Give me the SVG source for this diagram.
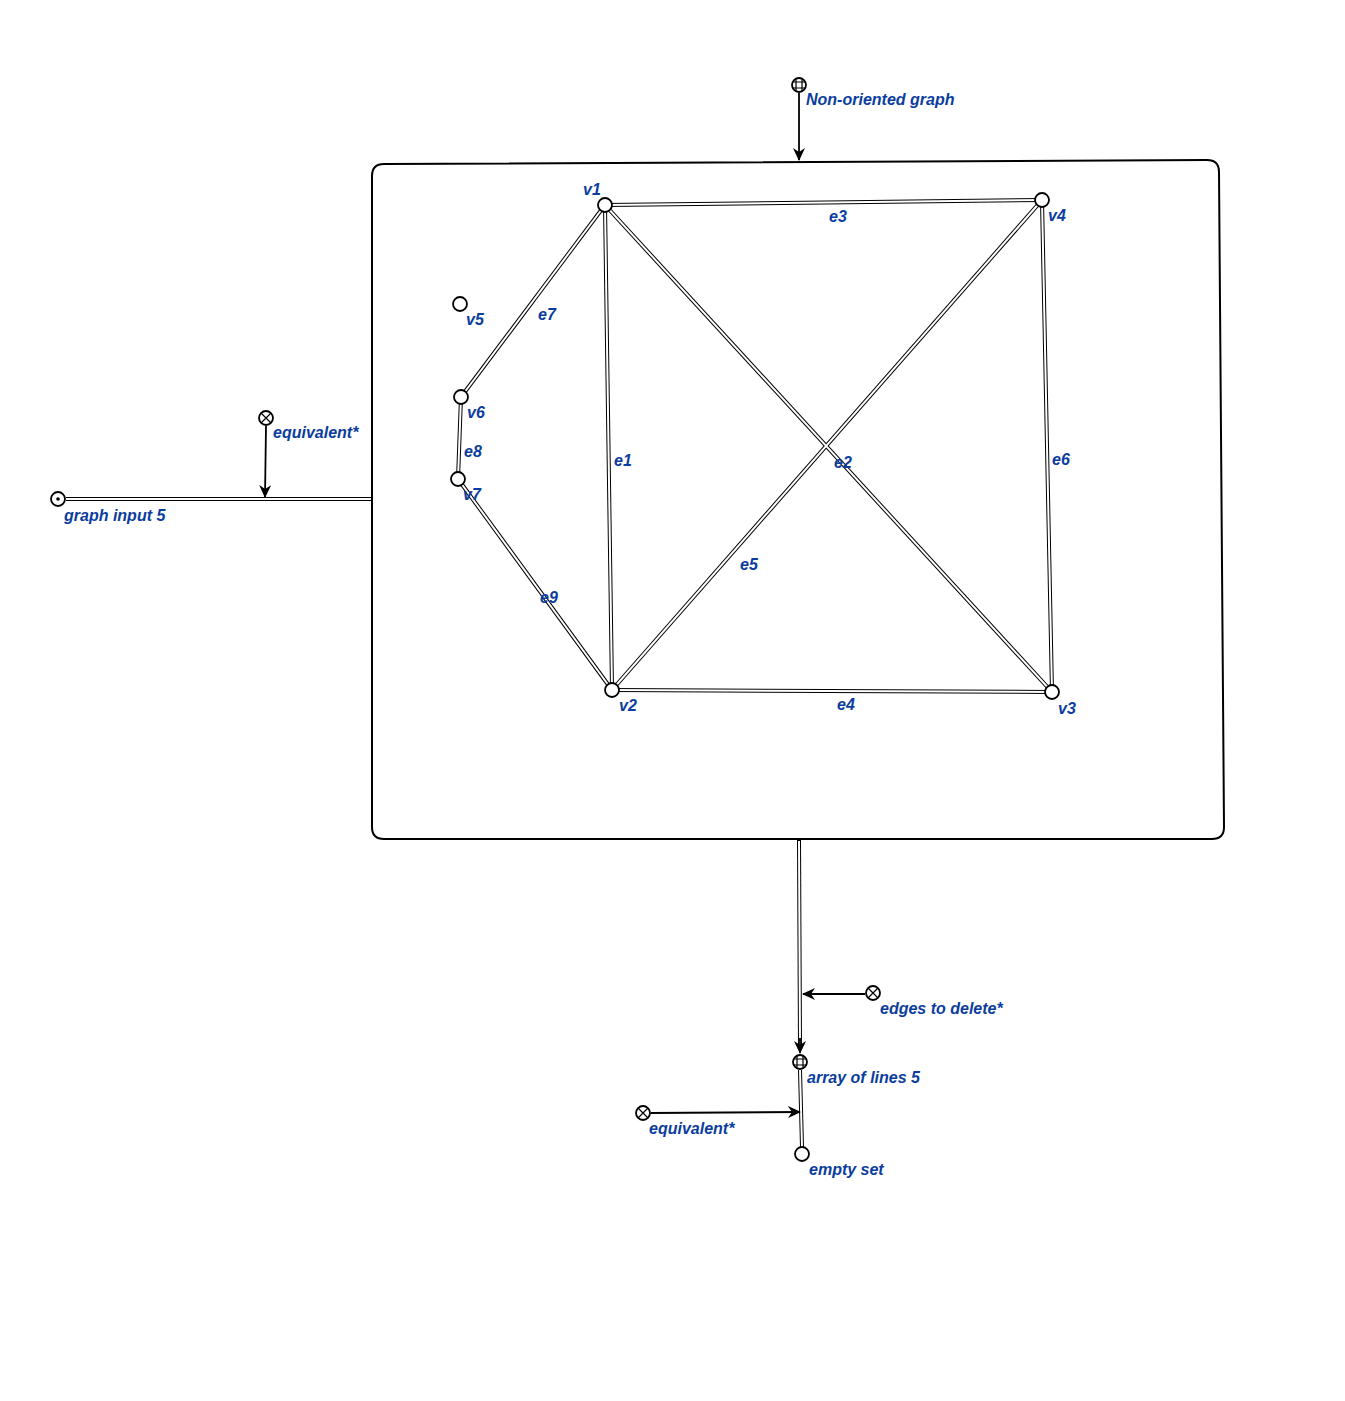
<svg xmlns="http://www.w3.org/2000/svg" width="1345" height="1401" viewBox="0 0 1345 1401">
<style>
.lbl{font-family:"Liberation Sans",Arial,sans-serif;font-size:16px;font-weight:bold;font-style:italic;fill:#0b3d9e}
.v{fill:#fff;stroke:#000;stroke-width:1.8}
.ob{stroke:#000;stroke-width:4;fill:none}
.ow{stroke:#fff;stroke-width:2;fill:none}
.arr{stroke:#000;stroke-width:1.8;fill:none;marker-end:url(#ah)}
.sym{stroke:#000;stroke-width:1.2;fill:none}
</style>
<defs>
<marker id="ah" markerWidth="14" markerHeight="12" refX="12" refY="6" orient="auto" markerUnits="userSpaceOnUse">
<path d="M0,0 L13,6 L0,12 L4,6 Z" fill="#000"/>
</marker>
</defs>
<rect width="1345" height="1401" fill="#fff"/>
<g id="connectors">
<g id="edges-outline" class="ob">
<line x1="605" y1="205" x2="1042" y2="200"/>
<line x1="605" y1="205" x2="612" y2="690"/>
<line x1="605" y1="205" x2="1052" y2="692"/>
<line x1="1042" y1="200" x2="612" y2="690"/>
<line x1="1042" y1="200" x2="1052" y2="692"/>
<line x1="612" y1="690" x2="1052" y2="692"/>
<line x1="605" y1="205" x2="461" y2="397"/>
<line x1="461" y1="397" x2="458" y2="479"/>
<line x1="458" y1="479" x2="612" y2="690"/>
<line x1="66" y1="499" x2="372" y2="499"/>
<line x1="799" y1="839" x2="800" y2="1046"/>
<line x1="800" y1="1070" x2="802" y2="1147"/>
</g>
<g id="edges-inner" class="ow">
<line x1="605" y1="205" x2="1042" y2="200"/>
<line x1="605" y1="205" x2="612" y2="690"/>
<line x1="605" y1="205" x2="1052" y2="692"/>
<line x1="1042" y1="200" x2="612" y2="690"/>
<line x1="1042" y1="200" x2="1052" y2="692"/>
<line x1="612" y1="690" x2="1052" y2="692"/>
<line x1="605" y1="205" x2="461" y2="397"/>
<line x1="461" y1="397" x2="458" y2="479"/>
<line x1="458" y1="479" x2="612" y2="690"/>
<line x1="66" y1="499" x2="371" y2="499"/>
<line x1="799" y1="841" x2="800" y2="1046"/>
<line x1="800" y1="1070" x2="802" y2="1147"/>
</g>
<path class="arr" d="M800,1038 L800,1053"/>
<path class="arr" d="M799,93 L799,160"/>
<path class="arr" d="M266,426 L265,497"/>
<path class="arr" d="M865,994 L803,994"/>
<path class="arr" d="M651,1113 L800,1112"/>
</g>
<g id="frame">
<path d="M384,164 L1207,160 Q1219,160 1219,172 L1224,827 Q1224,839 1212,839 L384,839 Q372,839 372,827 L372,176 Q372,164 384,164 Z" fill="none" stroke="#000" stroke-width="2"/>
</g>
<g id="node-nonoriented">
<circle class="v" cx="799" cy="85" r="7"/>
<path class="sym" d="M796,78.7 V91.3 M802,78.7 V91.3 M792.7,82 H805.3 M792.7,88 H805.3"/>
<text class="lbl" x="806" y="105">Non-oriented graph</text>
</g>
<g id="node-graphinput">
<circle class="v" cx="58" cy="499" r="7"/>
<circle cx="58" cy="499" r="1.8" fill="#000"/>
<text class="lbl" x="64" y="521">graph input 5</text>
</g>
<g id="node-equiv1">
<circle class="v" cx="266" cy="418" r="7"/>
<path class="sym" d="M261,413 L271,423 M271,413 L261,423"/>
<text class="lbl" x="273" y="438">equivalent*</text>
</g>
<g id="node-v1"><circle class="v" cx="605" cy="205" r="7"/><text class="lbl" x="583" y="195">v1</text></g>
<g id="node-v4"><circle class="v" cx="1042" cy="200" r="7"/><text class="lbl" x="1048" y="221">v4</text></g>
<g id="node-v5"><circle class="v" cx="460" cy="304" r="7"/><text class="lbl" x="466" y="325">v5</text></g>
<g id="node-v6"><circle class="v" cx="461" cy="397" r="7"/><text class="lbl" x="467" y="418">v6</text></g>
<g id="node-v7"><circle class="v" cx="458" cy="479" r="7"/><text class="lbl" x="463" y="500">v7</text></g>
<g id="node-v2"><circle class="v" cx="612" cy="690" r="7"/><text class="lbl" x="619" y="711">v2</text></g>
<g id="node-v3"><circle class="v" cx="1052" cy="692" r="7"/><text class="lbl" x="1058" y="714">v3</text></g>
<g id="edge-labels">
<text class="lbl" x="829" y="222">e3</text>
<text class="lbl" x="614" y="466">e1</text>
<text class="lbl" x="834" y="468">e2</text>
<text class="lbl" x="740" y="570">e5</text>
<text class="lbl" x="1052" y="465">e6</text>
<text class="lbl" x="837" y="710">e4</text>
<text class="lbl" x="538" y="320">e7</text>
<text class="lbl" x="464" y="457">e8</text>
<text class="lbl" x="540" y="603">e9</text>
</g>
<g id="node-edgesdelete">
<circle class="v" cx="873" cy="993" r="7"/>
<path class="sym" d="M868,988 L878,998 M878,988 L868,998"/>
<text class="lbl" x="880" y="1014">edges to delete*</text>
</g>
<g id="node-array">
<circle class="v" cx="800" cy="1062" r="7"/>
<path class="sym" d="M797,1055.7 V1068.3 M803,1055.7 V1068.3 M793.7,1059 H806.3 M793.7,1065 H806.3"/>
<text class="lbl" x="807" y="1083">array of lines 5</text>
</g>
<g id="node-equiv2">
<circle class="v" cx="643" cy="1113" r="7"/>
<path class="sym" d="M638,1108 L648,1118 M648,1108 L638,1118"/>
<text class="lbl" x="649" y="1134">equivalent*</text>
</g>
<g id="node-emptyset">
<circle class="v" cx="802" cy="1154" r="7"/>
<text class="lbl" x="809" y="1175">empty set</text>
</g>
</svg>
